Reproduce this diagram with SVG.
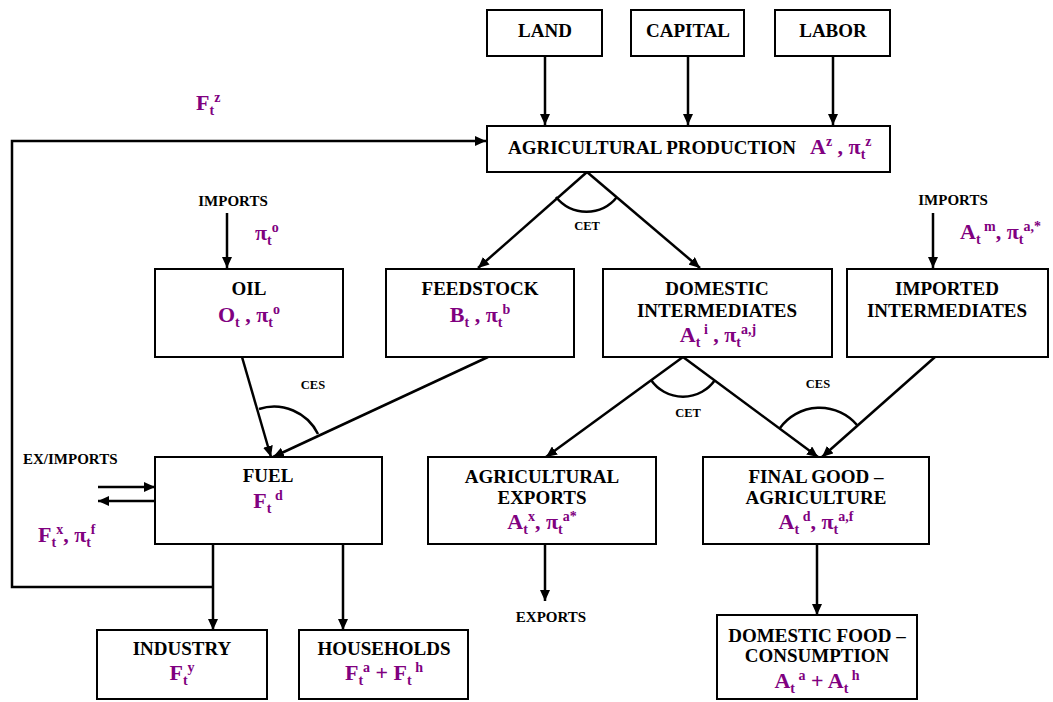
<svg xmlns="http://www.w3.org/2000/svg" width="1053" height="702" viewBox="0 0 1053 702">
<defs>
<style>
.box{fill:#fff;stroke:#000;stroke-width:2}
.ln{fill:none;stroke:#000;stroke-width:2.5}
.arr{marker-end:url(#ah)}
text{font-family:"Liberation Serif","Times New Roman",serif;font-weight:bold}
.t{font-size:19px;text-anchor:middle;fill:#000}
.lbl{font-size:15px;fill:#000}
.sm{font-size:12.5px;text-anchor:middle;fill:#000}
.m{font-size:22px;fill:#800080}
.c{text-anchor:middle}
.s{font-size:14px}
</style>
<marker id="ah" markerUnits="userSpaceOnUse" markerWidth="12" markerHeight="10" refX="11" refY="5" orient="auto">
<path d="M0,0 L11,5 L0,10 z" fill="#000"/>
</marker>
</defs>
<rect width="1053" height="702" fill="#fff"/>

<g id="connectors">
<line class="ln arr" x1="545" y1="56" x2="545" y2="125"/>
<line class="ln arr" x1="688" y1="56" x2="688" y2="125"/>
<line class="ln arr" x1="833" y1="56" x2="833" y2="125"/>
<polyline class="ln arr" points="213,587 12,587 12,141 486,141"/>
<line class="ln arr" x1="587" y1="172" x2="478" y2="268"/>
<line class="ln arr" x1="587" y1="172" x2="700" y2="268"/>
<path class="ln" d="M556 197 A39 39 0 0 0 617 197"/>
<line class="ln arr" x1="227" y1="213" x2="227" y2="268"/>
<line class="ln arr" x1="933" y1="213" x2="933" y2="268"/>
<line class="ln arr" x1="242" y1="357" x2="271" y2="457"/>
<line class="ln arr" x1="488" y1="357" x2="273" y2="457"/>
<path class="ln" d="M259 409 A49 49 0 0 1 318 434"/>
<line class="ln arr" x1="683" y1="357" x2="546" y2="457"/>
<line class="ln arr" x1="683" y1="357" x2="818" y2="457"/>
<path class="ln" d="M651 380 A39 39 0 0 0 715 380"/>
<line class="ln arr" x1="935" y1="357" x2="822" y2="457"/>
<path class="ln" d="M780 428 A49 49 0 0 1 857 425"/>
<line class="ln arr" x1="98" y1="487" x2="155" y2="487"/>
<line class="ln arr" x1="155" y1="501" x2="98" y2="501"/>
<line class="ln arr" x1="213" y1="544" x2="213" y2="630"/>
<line class="ln arr" x1="343" y1="544" x2="343" y2="630"/>
<line class="ln arr" x1="545" y1="544" x2="545" y2="601"/>
<line class="ln arr" x1="817" y1="544" x2="817" y2="615"/>
</g>

<g id="labels">
<text class="m" x="196" y="110">F<tspan class="s" dy="5">t</tspan><tspan class="s" dy="-13">z</tspan></text>
<text class="sm" x="587" y="230">CET</text>
<text class="lbl c" x="233" y="206">IMPORTS</text>
<text class="m" x="255" y="240">π<tspan class="s" dy="5">t</tspan><tspan class="s" dy="-13">o</tspan></text>
<text class="lbl c" x="953" y="205">IMPORTS</text>
<text class="m" x="960" y="239">A<tspan class="s" dy="5">t</tspan><tspan class="s" dy="-13"> m</tspan><tspan dy="8">, π</tspan><tspan class="s" dy="5">t</tspan><tspan class="s" dy="-13">a,*</tspan></text>
<text class="sm" x="313" y="389">CES</text>
<text class="sm" x="688" y="417">CET</text>
<text class="sm" x="818" y="388">CES</text>
<text class="lbl" x="23" y="464">EX/IMPORTS</text>
<text class="m" x="38" y="542">F<tspan class="s" dy="5">t</tspan><tspan class="s" dy="-13">x</tspan><tspan dy="8">, π</tspan><tspan class="s" dy="5">t</tspan><tspan class="s" dy="-13">f</tspan></text>
<text class="lbl c" x="551" y="622">EXPORTS</text>
</g>

<g id="land"><rect class="box" x="487" y="10" width="115" height="46"/><text class="t" x="545" y="37">LAND</text></g>
<g id="capital"><rect class="box" x="631" y="10" width="113" height="46"/><text class="t" x="688" y="37">CAPITAL</text></g>
<g id="labor"><rect class="box" x="775" y="10" width="115" height="46"/><text class="t" x="833" y="37">LABOR</text></g>

<g id="agprod"><rect class="box" x="487" y="126" width="403" height="46"/>
<text class="t" x="652" y="154">AGRICULTURAL PRODUCTION</text>
<text class="m" x="810" y="154">A<tspan class="s" dy="-8">z</tspan><tspan dy="8"> , π</tspan><tspan class="s" dy="5">t</tspan><tspan class="s" dy="-13">z</tspan></text></g>

<g id="oil"><rect class="box" x="155" y="269" width="188" height="88"/>
<text class="t" x="249" y="295">OIL</text>
<text class="m c" x="249" y="322">O<tspan class="s" dy="5">t</tspan><tspan dy="-5"> , π</tspan><tspan class="s" dy="5">t</tspan><tspan class="s" dy="-13">o</tspan></text></g>

<g id="feedstock"><rect class="box" x="386" y="269" width="188" height="88"/>
<text class="t" x="480" y="295">FEEDSTOCK</text>
<text class="m c" x="480" y="322">B<tspan class="s" dy="5">t</tspan><tspan dy="-5"> , π</tspan><tspan class="s" dy="5">t</tspan><tspan class="s" dy="-13">b</tspan></text></g>

<g id="domint"><rect class="box" x="603" y="269" width="229" height="88"/>
<text class="t" x="717" y="295">DOMESTIC</text>
<text class="t" x="717" y="317">INTERMEDIATES</text>
<text class="m c" x="718" y="342">A<tspan class="s" dy="5">t</tspan><tspan class="s" dy="-13"> i</tspan><tspan dy="8"> , π</tspan><tspan class="s" dy="5">t</tspan><tspan class="s" dy="-13">a,j</tspan></text></g>

<g id="impint"><rect class="box" x="847" y="269" width="201" height="88"/>
<text class="t" x="947" y="295">IMPORTED</text>
<text class="t" x="947" y="317">INTERMEDIATES</text></g>

<g id="fuel"><rect class="box" x="155" y="457" width="227" height="87"/>
<text class="t" x="268" y="482">FUEL</text>
<text class="m c" x="268" y="508">F<tspan class="s" dy="5">t</tspan><tspan class="s" dy="-13"> d</tspan></text></g>

<g id="agexports"><rect class="box" x="428" y="457" width="228" height="87"/>
<text class="t" x="542" y="483">AGRICULTURAL</text>
<text class="t" x="542" y="504">EXPORTS</text>
<text class="m c" x="542" y="529">A<tspan class="s" dy="5">t</tspan><tspan class="s" dy="-13">x</tspan><tspan dy="8">, π</tspan><tspan class="s" dy="5">t</tspan><tspan class="s" dy="-13">a*</tspan></text></g>

<g id="finalgood"><rect class="box" x="703" y="457" width="226" height="87"/>
<text class="t" x="816" y="483">FINAL GOOD –</text>
<text class="t" x="816" y="504">AGRICULTURE</text>
<text class="m c" x="816" y="529">A<tspan class="s" dy="5">t</tspan><tspan class="s" dy="-13"> d</tspan><tspan dy="8">, π</tspan><tspan class="s" dy="5">t</tspan><tspan class="s" dy="-13">a,f</tspan></text></g>

<g id="industry"><rect class="box" x="97" y="630" width="170" height="69"/>
<text class="t" x="182" y="655">INDUSTRY</text>
<text class="m c" x="182" y="680">F<tspan class="s" dy="5">t</tspan><tspan class="s" dy="-13">y</tspan></text></g>

<g id="households"><rect class="box" x="299" y="630" width="169" height="69"/>
<text class="t" x="384" y="655">HOUSEHOLDS</text>
<text class="m c" x="384" y="680">F<tspan class="s" dy="5">t</tspan><tspan class="s" dy="-13">a</tspan><tspan dy="8"> + F</tspan><tspan class="s" dy="5">t</tspan><tspan class="s" dy="-13"> h</tspan></text></g>

<g id="domfood"><rect class="box" x="717" y="615" width="200" height="84"/>
<text class="t" x="817" y="642">DOMESTIC FOOD –</text>
<text class="t" x="817" y="662">CONSUMPTION</text>
<text class="m c" x="817" y="688">A<tspan class="s" dy="5">t</tspan><tspan class="s" dy="-13"> a</tspan><tspan dy="8"> + A</tspan><tspan class="s" dy="5">t</tspan><tspan class="s" dy="-13"> h</tspan></text></g>
</svg>
